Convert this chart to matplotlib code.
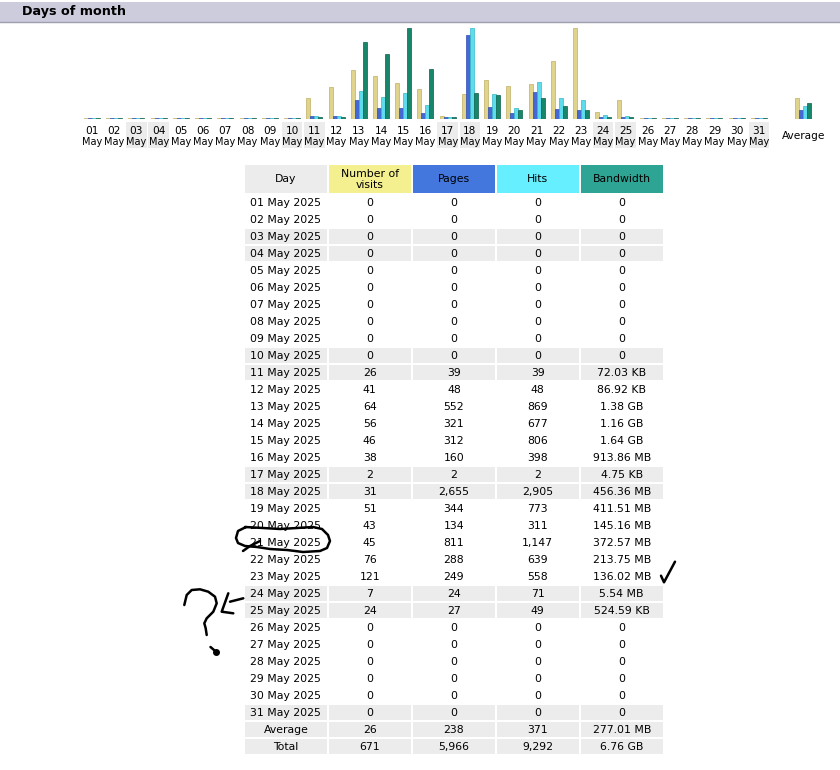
import matplotlib
matplotlib.use("Agg")
import matplotlib.pyplot as plt
from matplotlib.patches import Rectangle
from matplotlib import transforms

# Daten aus der Tabelle (Mai 2025)
days = list(range(1, 32))
weekend_days = [3, 4, 10, 11, 17, 18, 24, 25, 31]
visits = [0, 0, 0, 0, 0, 0, 0, 0, 0, 0,
          26, 41, 64, 56, 46, 38, 2, 31, 51, 43, 45, 76, 121, 7, 24,
          0, 0, 0, 0, 0, 0]
pages = [0, 0, 0, 0, 0, 0, 0, 0, 0, 0,
         39, 48, 552, 321, 312, 160, 2, 2655, 344, 134, 811, 288, 249, 24, 27,
         0, 0, 0, 0, 0, 0]
hits = [0, 0, 0, 0, 0, 0, 0, 0, 0, 0,
        39, 48, 869, 677, 806, 398, 2, 2905, 773, 311, 1147, 639, 558, 71, 49,
        0, 0, 0, 0, 0, 0]
bandwidth = ["0", "0", "0", "0", "0", "0", "0", "0", "0", "0",
             "72.03 KB", "86.92 KB", "1.38 GB", "1.16 GB", "1.64 GB", "913.86 MB",
             "4.75 KB", "456.36 MB", "411.51 MB", "145.16 MB", "372.57 MB",
             "213.75 MB", "136.02 MB", "5.54 MB", "524.59 KB",
             "0", "0", "0", "0", "0", "0"]
average_row = ["26", "238", "371", "277.01 MB"]
total_row = ["671", "5,966", "9,292", "6.76 GB"]
avg_visits, avg_pages, avg_hits, avg_bw = 26, 238, 371, "277.01 MB"

headers = ["Day", "Number of\nvisits", "Pages", "Hits", "Bandwidth"]
header_colors = ["#ECECEC", "#F4F090", "#4477DD", "#66F0FF", "#2EA495"]
bar_colors = ["#E0D38C", "#4569D4", "#5EDCEB", "#17866A"]
bar_edges = ["#BFAF62", "#2E4FB0", "#38B8C8", "#0E6048"]


def to_bytes(s):
    units = {"KB": 1024, "MB": 1024 ** 2, "GB": 1024 ** 3}
    parts = s.split()
    if len(parts) == 1:
        return float(parts[0])
    return float(parts[0]) * units[parts[1]]


bw_bytes = [to_bytes(b) for b in bandwidth]

fig = plt.figure(figsize=(8.4, 7.7), dpi=100)
ax = fig.add_axes([0, 0, 1, 1])
ax.set_xlim(0, 840)
ax.set_ylim(770, 0)
ax.axis("off")

#Titelleiste
ax.add_patch(Rectangle((0, 1.7), 840, 20.3, facecolor="#CCCCDD", edgecolor="none"))
ax.plot([0, 840], [22, 22], color="#9E9EB0", lw=1)
ax.text(22.5, 12, "Days of month", fontsize=9.2, fontweight="bold", va="center", ha="left")

#Balkendiagramm
base_px, top_px = 119, 27.5
axb = fig.add_axes([0, 1 - base_px / 770, 1, (base_px - top_px) / 770])
axb.set_xlim(-3.139, 34.65)
axb.set_ylim(0, base_px - top_px)
axb.axis("off")
axb.patch.set_alpha(0)

max_v = max(visits)
max_h = max(hits)
max_k = max(bw_bytes)
w = 0.18


def scaled(v, m):
    return v / m * 90 + 1.5


avg_pos = 33
series = [
    (visits + [avg_visits], max_v),
    (pages + [avg_pages], max_h),
    (hits + [avg_hits], max_h),
    (bw_bytes + [to_bytes(avg_bw)], max_k),
]
xs = days + [avg_pos]
for i, (vals, m) in enumerate(series):
    axb.bar([x + (i - 1.5) * w for x in xs], [scaled(v, m) for v in vals], width=w,
            color=bar_colors[i], edgecolor=bar_edges[i], linewidth=0.5, align="center")

# Tageslabels unter den Balken
lab = transforms.blended_transform_factory(axb.transData, ax.transData)
for d in days:
    if d in weekend_days:
        ax.add_patch(Rectangle((d - 0.46, 121.7), 0.92, 26, transform=lab,
                               facecolor="#ECECEC", edgecolor="none"))
    ax.text(d, 130.5, "%02d" % d, transform=lab, ha="center", va="center", fontsize=7.6)
    ax.text(d, 142, "May", transform=lab, ha="center", va="center", fontsize=7)
ax.text(avg_pos, 136, "Average", transform=lab, ha="center", va="center", fontsize=7.6)

#Tabelle
col_edges = [(245, 326.7), (328.7, 410.7), (413, 494.7), (496.7, 578.7), (580.7, 662.7)]
fs = 7.85
for (x0, x1), h, c in zip(col_edges, headers, header_colors):
    ax.add_patch(Rectangle((x0, 165), x1 - x0, 27.7, facecolor=c, edgecolor="none"))
    ax.text((x0 + x1) / 2, 179.5, h, ha="center", va="center", fontsize=fs, linespacing=1.05)

row_y0, row_step = 203.3, 17
rows = []
for i, d in enumerate(days):
    rows.append(("%02d May 2025" % d,
                 ["{:,}".format(visits[i]), "{:,}".format(pages[i]), "{:,}".format(hits[i]), bandwidth[i]],
                 d in weekend_days, "left"))
rows.append(("Average", average_row, True, "center"))
rows.append(("Total", total_row, True, "center"))

for r, (label, vals, grey, align) in enumerate(rows):
    y = row_y0 + r * row_step
    if grey:
        for x0, x1 in col_edges:
            ax.add_patch(Rectangle((x0, y - 8.2), x1 - x0, 15, facecolor="#ECECEC", edgecolor="none"))
    if align == "left":
        ax.text(250.5, y, label, ha="left", va="center", fontsize=fs)
    else:
        ax.text((col_edges[0][0] + col_edges[0][1]) / 2, y, label, ha="center", va="center", fontsize=fs)
    for (x0, x1), v in zip(col_edges[1:], vals):
        ax.text((x0 + x1) / 2, y, v, ha="center", va="center", fontsize=fs)

#Handschriftliche Markierungen
ink = dict(color="black", lw=1.8, solid_capstyle="round", solid_joinstyle="round")
loop_x = [245, 263, 280, 297, 313, 322, 328, 330, 327, 320, 303, 287, 270, 257, 245, 238, 236, 238, 246]
loop_y = [527, 528, 529, 528, 527, 529, 535, 541, 548, 551, 552, 550, 549, 547, 546, 543, 538, 531, 527]
ax.plot(loop_x, loop_y, **ink)
ax.plot([243, 250, 260], [551, 546, 541], **ink)

q_x = [184.3, 186.7, 191.7, 200, 208.3, 215, 216.7, 213.3, 206.7, 204.3, 205.7, 206.7]
q_y = [605, 595, 590, 589.3, 591.7, 596.7, 603.3, 611.7, 618.3, 623.3, 628.3, 635]
ax.plot(q_x, q_y, **ink)
ax.plot([210.5, 214, 216], [647, 650, 652], **ink)
ax.plot([216], [652.3], marker="o", markersize=4, color="black")

ax.plot([228.3, 221.7, 233.3], [593.3, 611.7, 613.3], **ink)
ax.plot([230, 243.3], [601.7, 598.3], **ink)

ax.plot([661, 664, 675], [575.7, 582.3, 561.7], **ink)

fig.savefig("out.png", dpi=100)
